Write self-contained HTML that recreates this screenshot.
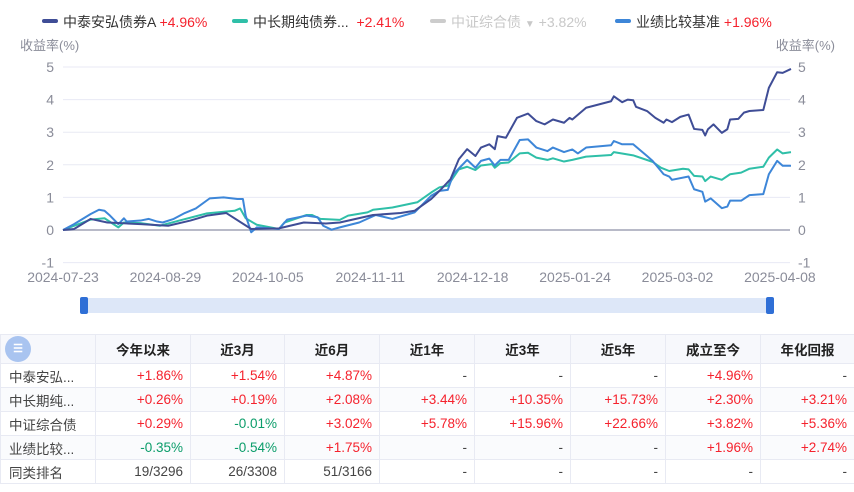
<!DOCTYPE html>
<html><head><meta charset="utf-8">
<style>
body{margin:0;width:854px;height:492px;background:#fff;font-family:"Liberation Sans","Noto Sans CJK SC",sans-serif;overflow:hidden;position:relative}
.lg{position:absolute;top:12px;font-size:14px;color:#333;white-space:nowrap}
.lg i{display:inline-block;width:16px;height:4px;border-radius:2px;vertical-align:middle;margin-right:5px;position:relative;top:-2px}
.r{color:#f5222d}.g{color:#0b9d6a}
table{position:absolute;left:0;top:334px;border-collapse:collapse;font-size:13.5px;color:#444;table-layout:fixed;width:854px}
td,th{border:1px solid #e8eaf3;height:23px;padding:0 7px;text-align:right;white-space:nowrap;overflow:hidden}
th{height:28px;background:#f7f8fc;text-align:center;font-weight:bold;color:#222}
td:first-child{text-align:left;padding-left:8px}
tr.alt td{background:#fafbfd}
</style></head><body>
<div class="lg" style="left:42px"><i style="background:#3f4d96"></i>中泰安弘债券A <span class="r">+4.96%</span></div>
<div class="lg" style="left:232px"><i style="background:#2fbfa8"></i>中长期纯债券... &nbsp;<span class="r">+2.41%</span></div>
<div class="lg" style="left:430px;color:#c8c8c8"><i style="background:#ccc"></i>中证综合债 <span style="font-size:10px">▼</span> +3.82%</div>
<div class="lg" style="left:615px"><i style="background:#3d86d8"></i>业绩比较基准 <span class="r">+1.96%</span></div>
<svg id="chart" width="854" height="320" style="position:absolute;left:0;top:0"></svg>
<div style="position:absolute;left:84px;top:298px;width:690px;height:15px;background:#dde7f8"></div>
<div style="position:absolute;left:80px;top:297px;width:8px;height:17px;background:#2f6fd6;border-radius:2px"></div>
<div style="position:absolute;left:766px;top:297px;width:8px;height:17px;background:#2f6fd6;border-radius:2px"></div>
<table>
<colgroup><col style="width:95px"><col style="width:95px"><col style="width:94px"><col style="width:95px"><col style="width:95px"><col style="width:96px"><col style="width:95px"><col style="width:95px"><col style="width:94px"></colgroup>
<tr><th style="text-align:left;padding-left:4px"><span style="display:inline-block;width:26px;height:26px;border-radius:13px;background:#a9c4f0;color:#fff;font-size:11px;text-align:center;line-height:26px">☰</span></th><th>今年以来</th><th>近3月</th><th>近6月</th><th>近1年</th><th>近3年</th><th>近5年</th><th>成立至今</th><th>年化回报</th></tr>
<tr><td>中泰安弘...</td><td class="r">+1.86%</td><td class="r">+1.54%</td><td class="r">+4.87%</td><td>-</td><td>-</td><td>-</td><td class="r">+4.96%</td><td>-</td></tr>
<tr class="alt"><td>中长期纯...</td><td class="r">+0.26%</td><td class="r">+0.19%</td><td class="r">+2.08%</td><td class="r">+3.44%</td><td class="r">+10.35%</td><td class="r">+15.73%</td><td class="r">+2.30%</td><td class="r">+3.21%</td></tr>
<tr><td>中证综合债</td><td class="r">+0.29%</td><td class="g">-0.01%</td><td class="r">+3.02%</td><td class="r">+5.78%</td><td class="r">+15.96%</td><td class="r">+22.66%</td><td class="r">+3.82%</td><td class="r">+5.36%</td></tr>
<tr class="alt"><td>业绩比较...</td><td class="g">-0.35%</td><td class="g">-0.54%</td><td class="r">+1.75%</td><td>-</td><td>-</td><td>-</td><td class="r">+1.96%</td><td class="r">+2.74%</td></tr>
<tr><td>同类排名</td><td>19/3296</td><td>26/3308</td><td>51/3166</td><td>-</td><td>-</td><td>-</td><td>-</td><td>-</td></tr>
</table>
<script>
const xTickLabels=["2024-07-23","2024-08-29","2024-10-05","2024-11-11","2024-12-18","2025-01-24","2025-03-02","2025-04-08"];
const yTicks=[-1,0,1,2,3,4,5];
const fundDays=[0,4,10,16,21,28,38,46,52,59,68,78,87,95,100,112,122,127,133,136,140,143,146,149,151,154,156,157,160,164,168,171,174,177,181,183,184,189,198,199,202,204,206,207,211,214,217,218,220,223,226,228,231,232,233,235,238,240,241,244,246,248,253,255,258,260,263];
const fundVals=[0,0.03,0.34,0.23,0.21,0.18,0.13,0.29,0.44,0.52,0.03,0.05,0.23,0.2,0.23,0.46,0.52,0.59,0.95,1.2,1.56,2.17,2.48,2.27,2.53,2.63,2.48,2.88,2.83,3.44,3.57,3.34,3.24,3.39,3.29,3.44,3.39,3.75,3.95,4.1,3.92,4.0,3.98,3.78,3.65,3.44,3.29,3.39,3.31,3.47,3.54,3.1,3.07,2.9,3.09,3.24,2.98,3.09,3.39,3.41,3.6,3.65,3.68,4.36,4.84,4.82,4.94];
const catDays=[0,4,10,15,20,22,28,35,42,52,62,64,66,70,78,80,88,90,93,100,103,110,112,119,128,133,136,139,143,146,149,151,155,156,158,161,165,168,171,175,177,181,184,189,198,199,206,213,216,219,224,226,228,231,232,234,238,241,245,248,253,255,258,260,263];
const catVals=[0,0.13,0.32,0.36,0.08,0.23,0.21,0.13,0.29,0.51,0.59,0.66,0.36,0.16,0.03,0.23,0.46,0.46,0.34,0.31,0.44,0.54,0.62,0.69,0.85,1.15,1.31,1.36,1.86,1.94,1.84,1.98,2.02,1.91,2.05,2.07,2.35,2.37,2.22,2.15,2.2,2.1,2.15,2.25,2.3,2.39,2.29,2.09,1.91,1.81,1.88,1.86,1.66,1.64,1.5,1.64,1.54,1.71,1.76,1.88,1.94,2.22,2.47,2.35,2.39];
const bmDays=[0,4,10,13,15,17,20,22,23,28,31,34,36,40,44,48,53,58,63,65,66,68,70,78,81,88,92,94,97,100,107,113,119,127,133,136,139,141,146,149,151,154,156,158,161,165,168,171,175,177,181,184,186,189,198,199,202,206,211,213,217,219,220,226,228,231,232,234,238,240,241,245,248,253,255,258,260,263];
const bmVals=[0,0.18,0.49,0.62,0.59,0.44,0.18,0.36,0.26,0.29,0.34,0.26,0.23,0.34,0.52,0.66,0.97,1.0,0.95,0.95,0.44,-0.07,0.08,0.03,0.32,0.44,0.39,0.13,0.01,0.08,0.23,0.46,0.34,0.54,1.05,1.2,1.23,1.71,2.15,1.91,2.12,2.19,1.98,2.15,2.15,2.76,2.78,2.53,2.42,2.53,2.39,2.47,2.35,2.53,2.6,2.73,2.63,2.63,2.27,2.12,1.71,1.64,1.54,1.64,1.25,1.17,0.87,0.97,0.67,0.72,0.9,0.9,1.07,1.1,1.71,2.12,1.97,1.97];
const svg=document.getElementById('chart');const NS='http://www.w3.org/2000/svg';
const X0=63,DAYPX=2.768,Y0=230,UNIT=32.6;
const xs=d=>X0+d*DAYPX, ys=v=>Y0-v*UNIT;
function mk(t,a,txt){const e=document.createElementNS(NS,t);for(const k in a)e.setAttribute(k,a[k]);if(txt!=null)e.textContent=txt;svg.appendChild(e);return e;}
yTicks.forEach(v=>{
 const l=mk('line',{x1:X0,x2:790,y1:ys(v),y2:ys(v),stroke:v===0?'#b8bac8':'#e8eaf4','stroke-width':v===0?2:1});
 
 const a=mk('text',{x:54,y:ys(v)+5,'text-anchor':'end','font-size':14,fill:'#8a8c99'},String(v));
 
 const b=mk('text',{x:798,y:ys(v)+5,'font-size':14,fill:'#8a8c99'},String(v));
 
});
const t1=mk('text',{x:20,y:50,'font-size':13,fill:'#8a8c99'},'收益率(%)');
const t2=mk('text',{x:835,y:50,'font-size':13,fill:'#8a8c99','text-anchor':'end'},'收益率(%)');
xTickLabels.forEach((s,i)=>{const t=mk('text',{x:xs(i*37),y:282,'text-anchor':'middle','font-size':14,fill:'#8a8c99'},s);});
function line(days,vals,color,name){const p=mk('polyline',{points:days.map((d,i)=>xs(d)+','+ys(vals[i])).join(' '),fill:'none',stroke:color,'stroke-width':2,'stroke-linejoin':'round'});}
line(catDays,catVals,'#2fbfa8','line-category-avg');
line(bmDays,bmVals,'#3d86d8','line-benchmark');
line(fundDays,fundVals,'#3f4d96','line-fund');
</script>
</body></html>
